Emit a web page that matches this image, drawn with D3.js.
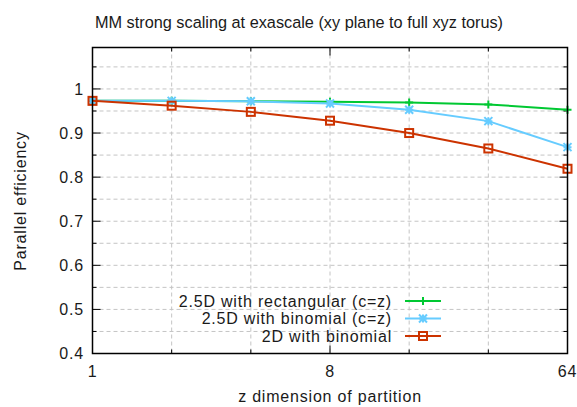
<!DOCTYPE html>
<html>
<head>
<meta charset="utf-8">
<script src="https://cdn.jsdelivr.net/npm/d3@7"></script>
<style>
  body { margin: 0; background: #fff; }
  text { font-family: "Liberation Sans", Arial, sans-serif; fill: #1a1a1a; }
</style>
</head>
<body>
<script>
// data
var zdim = [1, 2, 4, 8, 16, 32, 64];
var rect25 = [0.973, 0.973, 0.972, 0.971, 0.969, 0.965, 0.953];
var binom25 = [0.973, 0.973, 0.972, 0.967, 0.953, 0.927, 0.868];
var binom2d = [0.973, 0.962, 0.948, 0.928, 0.900, 0.865, 0.819];
var seriesNames = ["2.5D with rectangular (c=z)", "2.5D with binomial (c=z)", "2D with binomial"];
var xTickLabels = [1, 8, 64];
var yTicks = [0.4, 0.5, 0.6, 0.7, 0.8, 0.9, 1];
var yMinor = [0.45, 0.55, 0.65, 0.75, 0.85, 0.95, 1.05];

// layout
var w = 577, h = 407;
var pl = 92.5, pr = 567.5, pt = 47.5, pb = 353.5;
var fs = 16, ls = "0.8px";

var svg = d3.select("body").append("svg")
  .attr("width", w)
  .attr("height", h);

var x = d3.scaleLog().base(2).domain([1, 64]).range([pl, pr]);
var y = d3.scaleLinear().domain([0.4, 1.094]).range([pb, pt]);

// grid
var grid = svg.append("g")
  .attr("stroke", "#c4c4c4")
  .attr("stroke-width", 1)
  .attr("stroke-dasharray", "4,3");
zdim.slice(1, -1).forEach(function(d) {
  grid.append("line").attr("x1", x(d)).attr("x2", x(d)).attr("y1", pt).attr("y2", pb);
});
yTicks.slice(1).concat(yMinor).forEach(function(d) {
  grid.append("line").attr("x1", pl).attr("x2", pr).attr("y1", y(d)).attr("y2", y(d));
});

// ticks (inward, mirrored)
var ticks = svg.append("g").attr("stroke", "#000").attr("stroke-width", 1);
zdim.forEach(function(d) {
  var len = xTickLabels.indexOf(d) >= 0 ? 8 : 4;
  ticks.append("line").attr("x1", x(d)).attr("x2", x(d)).attr("y1", pb).attr("y2", pb - len);
  ticks.append("line").attr("x1", x(d)).attr("x2", x(d)).attr("y1", pt).attr("y2", pt + len);
});
yTicks.forEach(function(d) {
  ticks.append("line").attr("x1", pl).attr("x2", pl + 8).attr("y1", y(d)).attr("y2", y(d));
  ticks.append("line").attr("x1", pr).attr("x2", pr - 8).attr("y1", y(d)).attr("y2", y(d));
});
yMinor.forEach(function(d) {
  ticks.append("line").attr("x1", pl).attr("x2", pl + 4).attr("y1", y(d)).attr("y2", y(d));
  ticks.append("line").attr("x1", pr).attr("x2", pr - 4).attr("y1", y(d)).attr("y2", y(d));
});

// tick labels
svg.selectAll(".xl").data(xTickLabels).enter().append("text")
  .attr("x", function(d) { return x(d); })
  .attr("y", 377)
  .attr("text-anchor", "middle")
  .attr("font-size", fs)
  .style("letter-spacing", ls)
  .text(function(d) { return d; });

svg.selectAll(".yl").data(yTicks).enter().append("text")
  .attr("x", 84)
  .attr("y", function(d) { return y(d); })
  .attr("dy", "0.36em")
  .attr("text-anchor", "end")
  .attr("font-size", fs)
  .style("letter-spacing", ls)
  .text(function(d) { return d === 1 ? "1" : d.toFixed(1); });

// titles
svg.append("text").attr("x", 299).attr("y", 28).attr("text-anchor", "middle")
  .attr("font-size", 16.3).text("MM strong scaling at exascale (xy plane to full xyz torus)");
svg.append("text").attr("x", 330).attr("y", 402).attr("text-anchor", "middle")
  .attr("font-size", fs).style("letter-spacing", ls).text("z dimension of partition");
svg.append("text").attr("transform", "translate(26,201) rotate(-90)").attr("text-anchor", "middle")
  .attr("font-size", fs).style("letter-spacing", ls).text("Parallel efficiency");

// series
var colors = ["#00c832", "#66ccff", "#cc3300"];
var values = [rect25, binom25, binom2d];

function marker(g, kind, cx, cy, color) {
  var s = 4;
  if (kind === 0) {
    g.append("path").attr("d", "M" + (cx - s) + "," + cy + "h" + 2 * s + "M" + cx + "," + (cy - s) + "v" + 2 * s)
      .attr("stroke", color).attr("stroke-width", 2).attr("fill", "none");
  } else if (kind === 1) {
    g.append("path").attr("d", "M" + (cx - s) + "," + cy + "h" + 2 * s + "M" + cx + "," + (cy - s) + "v" + 2 * s +
        "M" + (cx - s) + "," + (cy - s) + "l" + 2 * s + "," + 2 * s + "M" + (cx - s) + "," + (cy + s) + "l" + 2 * s + "," + (-2 * s))
      .attr("stroke", color).attr("stroke-width", 2).attr("fill", "none");
  } else {
    g.append("rect").attr("x", cx - s).attr("y", cy - s).attr("width", 2 * s).attr("height", 2 * s)
      .attr("stroke", color).attr("stroke-width", 2).attr("fill", "none");
  }
}

var line = d3.line()
  .x(function(d) { return x(d[0]); })
  .y(function(d) { return y(d[1]); });

var plot = svg.append("g");
values.forEach(function(vals, k) {
  var pts = zdim.map(function(z, i) { return [z, vals[i]]; });
  var g = plot.append("g");
  g.append("path").attr("d", line(pts))
    .attr("stroke", colors[k]).attr("stroke-width", 2).attr("fill", "none");
  pts.forEach(function(p) { marker(g, k, x(p[0]), y(p[1]), colors[k]); });
});

// legend
var ly = [301, 318.5, 336];
seriesNames.forEach(function(name, k) {
  svg.append("text").attr("x", 392).attr("y", ly[k]).attr("dy", "0.36em")
    .attr("text-anchor", "end").attr("font-size", fs).style("letter-spacing", ls).text(name);
  svg.append("line").attr("x1", 405).attr("x2", 441).attr("y1", ly[k]).attr("y2", ly[k])
    .attr("stroke", colors[k]).attr("stroke-width", 2);
  marker(svg, k, 423, ly[k], colors[k]);
});

// border
svg.append("rect").attr("x", pl).attr("y", pt).attr("width", pr - pl).attr("height", pb - pt)
  .attr("fill", "none").attr("stroke", "#000").attr("stroke-width", 1.5);
</script>
</body>
</html>
